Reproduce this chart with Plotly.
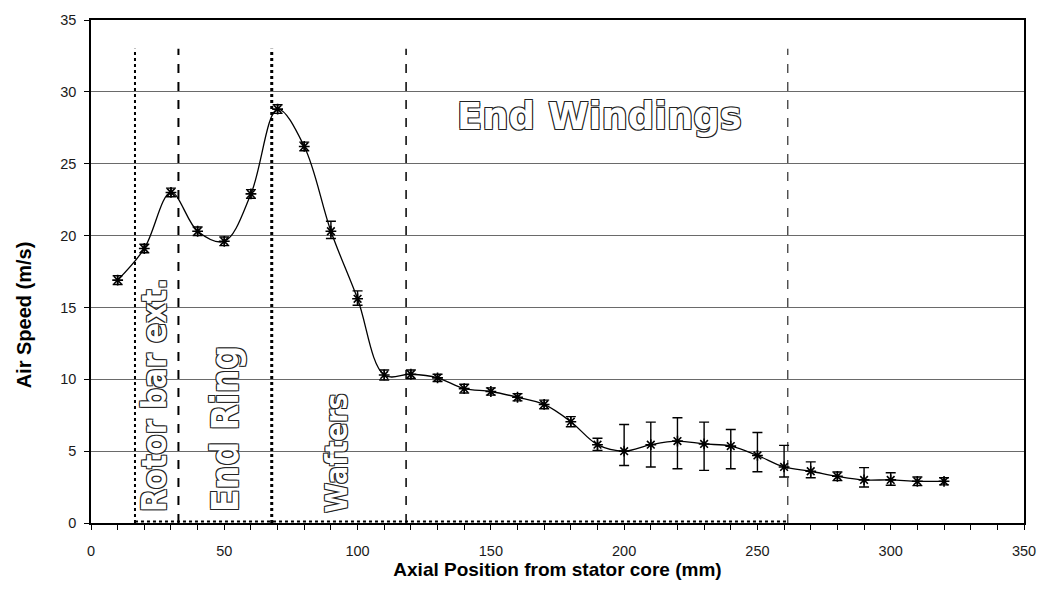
import plotly.graph_objects as go

# ---- data ----
positions = [10, 20, 30, 40, 50, 60, 70, 80, 90, 100, 110, 120, 130, 140, 150, 160,
             170, 180, 190, 200, 210, 220, 230, 240, 250, 260, 270, 280, 290, 300, 310, 320]
speed = [16.9, 19.1, 23.0, 20.3, 19.6, 22.9, 28.8, 26.2, 20.3, 15.6, 10.3, 10.35, 10.1, 9.35, 9.15, 8.75,
         8.25, 7.05, 5.45, 5.0, 5.45, 5.7, 5.5, 5.35, 4.7, 3.9, 3.6, 3.25, 3.0, 3.0, 2.9, 2.9]
err_plus = [0.3, 0.3, 0.3, 0.3, 0.3, 0.3, 0.3, 0.3, 0.7, 0.55, 0.35, 0.3, 0.25, 0.3, 0.25, 0.25,
            0.3, 0.35, 0.45, 1.85, 1.57, 1.62, 1.52, 1.16, 1.6, 1.5, 0.65, 0.3, 0.85, 0.5, 0.3, 0.25]
err_minus = [0.3, 0.3, 0.3, 0.3, 0.3, 0.3, 0.3, 0.3, 0.5, 0.45, 0.35, 0.3, 0.25, 0.3, 0.25, 0.25,
             0.3, 0.35, 0.4, 1.0, 1.55, 1.92, 1.84, 1.57, 1.13, 0.7, 0.45, 0.3, 0.5, 0.37, 0.3, 0.25]

region_bounds = [16.5, 32.8, 67.8, 118.2, 261.4]
region_top = 33.0
region_labels = ["Rotor bar ext.", "End Ring", "Wafters"]
region_label_x = [23.9, 50.5, 92.2]
region_label_size = [33, 37, 30]
header_label = "End Windings"
header_pos = (190.7, 28.3)

x_ticks = [0, 50, 100, 150, 200, 250, 300, 350]
y_ticks = [0, 5, 10, 15, 20, 25, 30, 35]

fig = go.Figure()

# region boundary lines
dashes = ["dot", "dash", "dot", "dash", "dash"]
widths = [2, 2, 3, 1.5, 1]
for xb, d, w in zip(region_bounds, dashes, widths):
    fig.add_shape(type="line", x0=xb, x1=xb, y0=0, y1=region_top, xref="x", yref="y",
                  line=dict(color="black", width=w, dash=d), layer="above")
fig.add_shape(type="line", x0=region_bounds[0], x1=region_bounds[-1], y0=0.1, y1=0.1,
              xref="x", yref="y", line=dict(color="black", width=2, dash="dot"), layer="above")

fig.add_trace(go.Scatter(
    x=positions, y=speed, mode="lines+markers",
    line=dict(color="black", width=1.3, shape="spline", smoothing=1.0),
    marker=dict(symbol="asterisk-open", size=9, color="black", line=dict(color="black", width=1.6)),
    error_y=dict(type="data", symmetric=False, array=err_plus, arrayminus=err_minus,
                 color="black", thickness=1.4, width=5),
    showlegend=False,
))

outline = "-1px -1px 0 #222, 1px -1px 0 #222, -1px 1px 0 #222, 1px 1px 0 #222"

for lbl, lx, sz in zip(region_labels, region_label_x, region_label_size):
    fig.add_annotation(x=lx, y=0.6, xref="x", yref="y", text=lbl, showarrow=False,
                       textangle=-90, xanchor="center", yanchor="bottom",
                       font=dict(family="DejaVu Sans Condensed", size=sz,
                                 color="white", weight="bold", shadow=outline))

fig.add_annotation(x=header_pos[0], y=header_pos[1], xref="x", yref="y", text=header_label,
                   showarrow=False, xanchor="center", yanchor="middle",
                   font=dict(family="DejaVu Sans", size=37, color="white",
                             weight="bold", shadow=outline))

# y-axis title placed as in the reference (slightly below the axis centre)
fig.add_annotation(x=-0.0721, y=14.5, xref="paper", yref="y", text="<b>Air Speed (m/s)</b>",
                   showarrow=False, textangle=-90, xanchor="center", yanchor="middle",
                   font=dict(family="Liberation Sans, Arial", size=20, color="black"))

fig.update_layout(
    width=1048, height=592,
    margin=dict(l=91, r=21, t=17, b=69),
    paper_bgcolor="white", plot_bgcolor="white",
    font=dict(family="Liberation Sans, Arial", size=14.5, color="#1a1a1a"),
)
fig.update_xaxes(
    range=[0, 350], tickvals=x_ticks, ticks="outside", ticklen=5, tickcolor="black",
    ticklabelstandoff=9,
    showline=True, linecolor="black", linewidth=1.5, mirror=True, showgrid=False, zeroline=False,
    minor=dict(dtick=10, ticks="outside", ticklen=5, tickcolor="black", showgrid=False),
    title=dict(text="<b>Axial Position from stator core (mm)</b>", font=dict(size=19, color="black"),
               standoff=0),
)
fig.update_yaxes(
    range=[0, 35], tickvals=y_ticks, ticks="outside", ticklen=5, tickcolor="black",
    ticklabelstandoff=5,
    showline=True, linecolor="black", linewidth=1.5, mirror=True,
    showgrid=True, gridcolor="#6a6a6a", gridwidth=1, zeroline=False,
)

fig.write_html("out.html")
